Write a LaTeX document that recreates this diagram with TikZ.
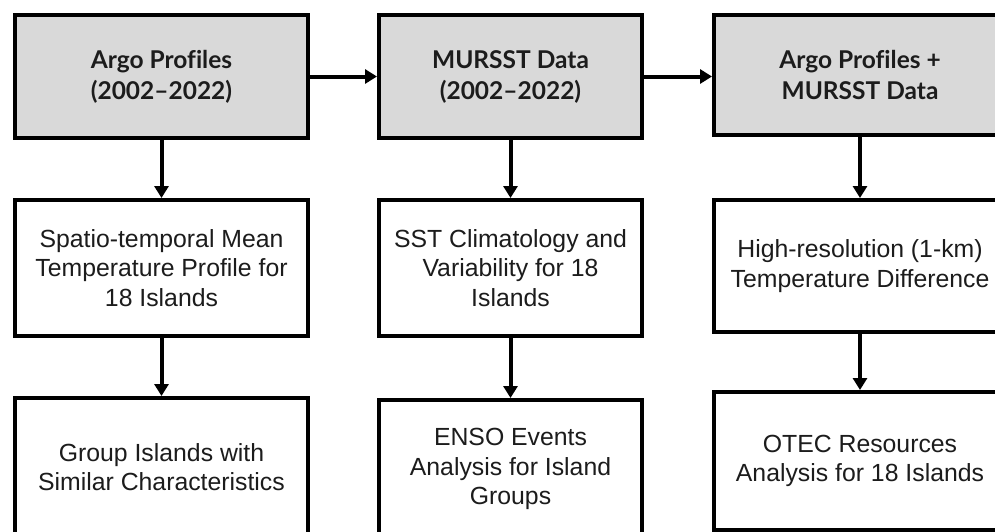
\documentclass[tikz,border=0pt]{standalone}
\usepackage{fontspec}
\setmainfont{Liberation Sans}
\newfontfamily\hdfont{Lato}[Ligatures=NoCommon]
\usetikzlibrary{arrows.meta}
\definecolor{hdfill}{RGB}{217,217,217}
\definecolor{txt}{RGB}{28,28,28}
\begin{document}
\begin{tikzpicture}[x=1pt,y=-1pt,
  box/.style={draw=black, line width=4pt, rectangle, inner sep=0pt, align=center, text=txt,
    font=\fontsize{24.8}{29.5}\selectfont},
  head/.style={box, fill=hdfill, font=\hdfont\bfseries\fontsize{24.5}{31}\selectfont},
  arr/.style={line width=4pt, -{Triangle[length=12pt,width=14pt]}}]
\useasboundingbox (0,0) rectangle (995,531);
\fill[white] (0,0) rectangle (995,531);
\clip (0,0) rectangle (995,531);
% row 1
\node[head, minimum width=293pt, minimum height=123pt] (a1) at (161.5,76.5) {Argo Profiles\\(2002–2022)};
\node[head, minimum width=263pt, minimum height=123pt] (b1) at (510.5,76.5) {MURSST Data\\(2002–2022)};
\node[head, minimum width=292pt, minimum height=120pt] (c1) at (860,75) {Argo Profiles +\\MURSST Data};
% row 2
\node[box, minimum width=293pt, minimum height=136pt] (a2) at (161.5,268) {Spatio-temporal Mean\\Temperature Profile for\\18 Islands};
\node[box, minimum width=263pt, minimum height=136pt] (b2) at (510.5,268) {SST Climatology and\\Variability for 18\\Islands};
\node[box, minimum width=292pt, minimum height=132pt] (c2) at (860,266) {High-resolution (1-km)\\Temperature Difference};
% row 3
\node[box, minimum width=293pt, minimum height=138pt] (a3) at (161.5,467) {Group Islands with\\Similar Characteristics};
\node[box, minimum width=263pt, minimum height=138pt] (b3) at (510.5,469) {ENSO Events\\Analysis for Island\\Groups};
\node[box, minimum width=292pt, minimum height=138pt] (c3) at (860,461) {OTEC Resources\\Analysis for 18 Islands};
% arrows
\draw[arr] (a1.east) -- (b1.west);
\draw[arr] (b1.east) -- (b1.east -| c1.west);
\draw[arr] (a1) -- (a2);
\draw[arr] (b1) -- (b2);
\draw[arr] (c1) -- (c2);
\draw[arr] (a2) -- (a3);
\draw[arr] (b2) -- (b3);
\draw[arr] (c2) -- (c3);
\end{tikzpicture}
\end{document}
